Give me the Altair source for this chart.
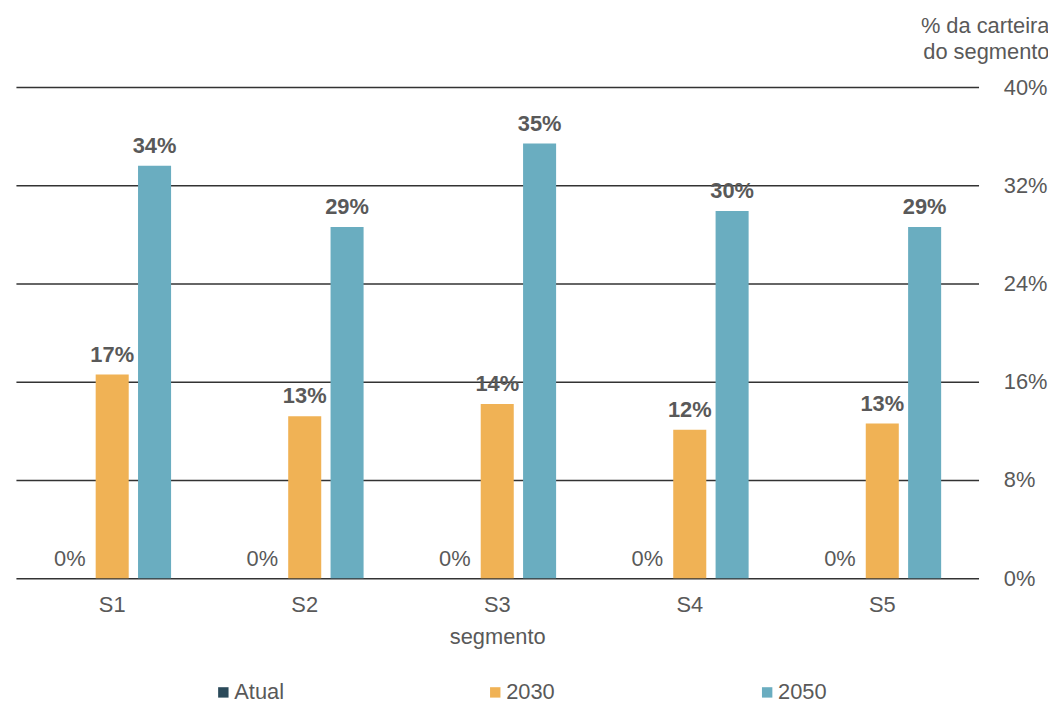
import altair as alt
import pandas as pd

segments = ["S1", "S2", "S3", "S4", "S5"]
series = ["Atual", "2030", "2050"]
atual = [0.0, 0.0, 0.0, 0.0, 0.0]
v2030 = [0.166, 0.132, 0.142, 0.121, 0.126]
v2050 = [0.336, 0.286, 0.354, 0.299, 0.286]
colors = ["#2B4A5A", "#F0B255", "#6AADC0"]
y_ticks = [0, 0.08, 0.16, 0.24, 0.32, 0.40]

rows = []
for i, s in enumerate(segments):
    for name, vals in zip(series, [atual, v2030, v2050]):
        rows.append({"segmento": s, "serie": name, "valor": vals[i]})
df = pd.DataFrame(rows)

FONT = "Liberation Sans"
GREY = "#595959"
FS = 22

x = alt.X("segmento:N", sort=segments,
          scale=alt.Scale(paddingInner=0.34, paddingOuter=0.17),
          axis=alt.Axis(title="segmento", labelAngle=0, ticks=False, domain=False,
                        labelPadding=16, titlePadding=12, labelFontSize=FS,
                        titleFontSize=FS, titleFontWeight="normal",
                        labelColor=GREY, titleColor=GREY, labelFont=FONT, titleFont=FONT))
xo = alt.XOffset("serie:N", sort=series,
                 scale=alt.Scale(paddingInner=0.22, paddingOuter=0.11))
y = alt.Y("valor:Q", scale=alt.Scale(domain=[0, 0.4], nice=False),
          axis=alt.Axis(orient="right", values=y_ticks, format=".0%",
                        title=["% da carteira", "do segmento"], titleAngle=0,
                        titleAlign="right", titleBaseline="alphabetic",
                        titleX=71, titleY=-55, titleLineHeight=26,
                        titleFontSize=FS, titleFontWeight="normal",
                        labelFontSize=FS, labelPadding=25, labelAlign="left",
                        ticks=False, domain=False,
                        grid=True, gridColor="#333333", gridWidth=1.5,
                        labelColor=GREY, titleColor=GREY, labelFont=FONT, titleFont=FONT))
color = alt.Color("serie:N", sort=series,
                  scale=alt.Scale(domain=series, range=colors),
                  legend=alt.Legend(title=None, orient="none", legendX=198, legendY=599,
                                    direction="horizontal", columns=3, gridAlign="all",
                                    symbolType="square", symbolSize=110, symbolStrokeWidth=0,
                                    labelFontSize=FS, labelFont=FONT, labelColor=GREY,
                                    labelOffset=0, columnPadding=201))

bars = alt.Chart(df).mark_bar().encode(x=x, xOffset=xo, y=y, color=color)
labels_zero = alt.Chart(df).transform_filter(alt.datum.serie == "Atual").mark_text(
    baseline="alphabetic", dy=-12, fontSize=FS, font=FONT, color=GREY).encode(
    x=x, xOffset=xo, y=y, text=alt.Text("valor:Q", format=".0%"))
labels_bold = alt.Chart(df).transform_filter(alt.datum.serie != "Atual").mark_text(
    baseline="alphabetic", dy=-13, fontSize=FS, font=FONT, color=GREY, fontWeight="bold").encode(
    x=x, xOffset=xo, y=y, text=alt.Text("valor:Q", format=".0%"))

chart = (bars + labels_zero + labels_bold).properties(
    width=970, height=495,
    autosize=alt.AutoSizeParams(type="none"),
    padding={"left": 8, "top": 77, "right": 70, "bottom": 123},
).configure_view(stroke=None)

chart.save("out.html", embed_options={"renderer": "svg", "actions": False})
